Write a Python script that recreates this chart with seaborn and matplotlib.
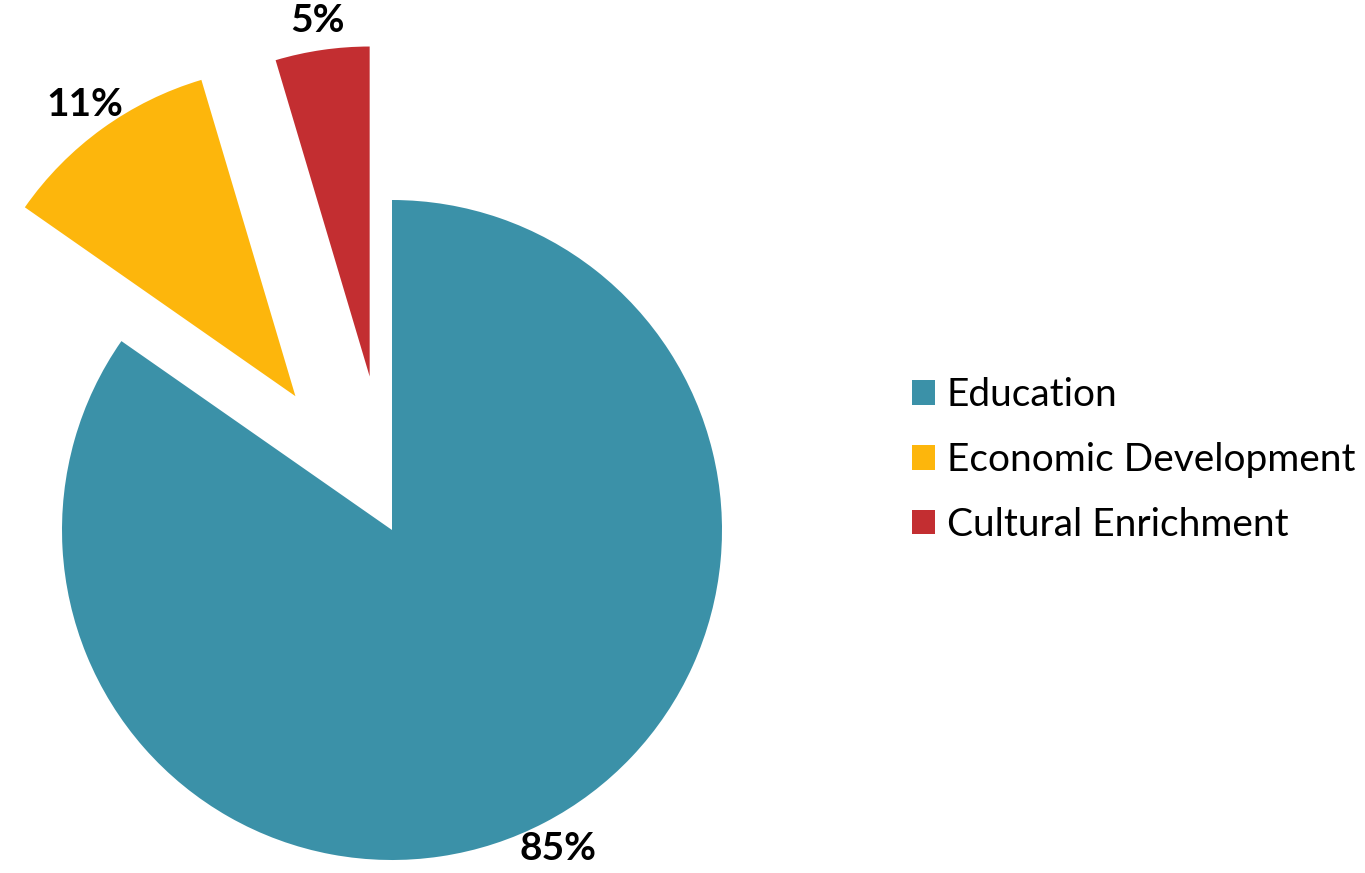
import matplotlib
matplotlib.use("Agg")
import matplotlib.pyplot as plt
import seaborn as sns
from matplotlib.patches import Patch

sns.set_theme(style="white")
plt.rcParams['font.family'] = ['Lato', 'DejaVu Sans']
plt.rcParams['text.color'] = 'black'

categories = ["Education", "Economic Development", "Cultural Enrichment"]
values = [84.7, 10.7, 4.6]
pct_labels = ["85%", "11%", "5%"]
colors = ["#3B91A8", "#FDB60C", "#C32E31"]
explode = [0.0, 0.5, 0.47]

W, H = 1365, 873
fig = plt.figure(figsize=(W / 100, H / 100), dpi=100)
ax = fig.add_axes([0, 0, 1, 1])

wedges, texts = ax.pie(values, colors=colors, startangle=90, counterclock=False,
                       explode=explode, radius=1.0, labels=pct_labels,
                       labeldistance=1.09, wedgeprops=dict(linewidth=0),
                       textprops=dict(fontsize=28, fontweight='bold', color='black'))
for t in texts:
    t.set_horizontalalignment('center')
    t.set_verticalalignment('center')

R = 330.0
cx, cy = 392.0, 530.0
ax.set_aspect('auto')
ax.set_xlim(-cx / R, (W - cx) / R)
ax.set_ylim(-(H - cy) / R, cy / R)
ax.axis('off')

handles = [Patch(facecolor=c, edgecolor='none') for c in colors]
leg = fig.legend(handles, categories, loc='center left',
                 bbox_to_anchor=(912 / W, 1 - 460 / H), frameon=False,
                 fontsize=28, handlelength=0.6, handleheight=0.6,
                 handletextpad=0.3, labelspacing=0.74, borderpad=0, borderaxespad=0)
for t in leg.get_texts():
    t.set_color('black')

fig.savefig("out.png", dpi=100, facecolor="white")
